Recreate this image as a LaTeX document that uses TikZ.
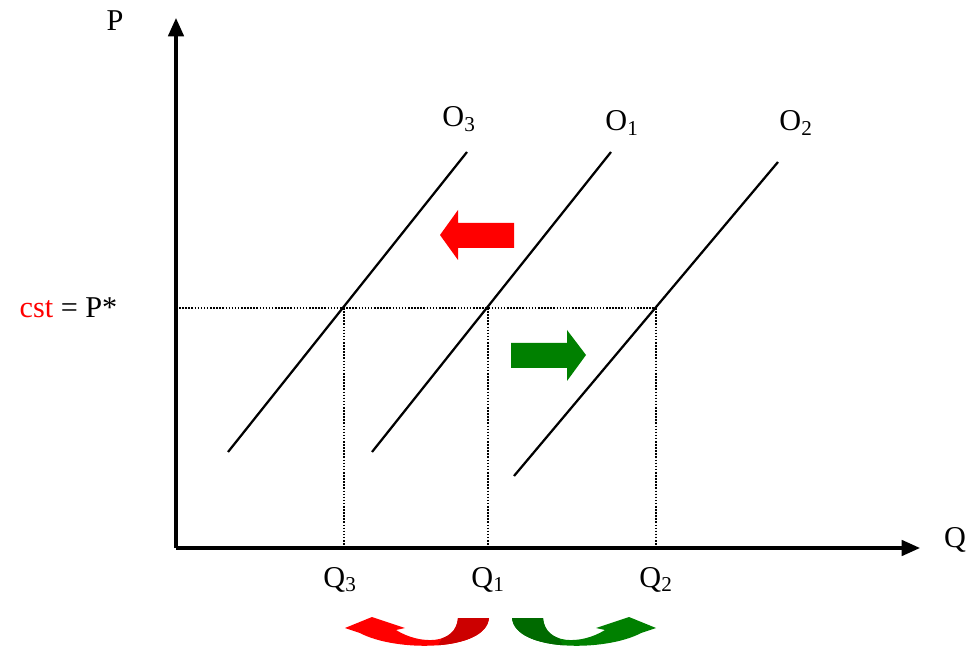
\documentclass[tikz,border=0pt]{standalone}
\usepackage{fontspec}
\setmainfont{Liberation Serif}
\usetikzlibrary{arrows.meta}
\definecolor{shiftred}{RGB}{255,0,0}
\definecolor{shiftreddark}{RGB}{204,0,0}
\definecolor{shiftgreen}{RGB}{0,128,0}
\definecolor{shiftgreendark}{RGB}{0,106,0}

\begin{document}
\begin{tikzpicture}[
  x=0.025cm, y=-0.025cm,
  every node/.style={font=\fontsize{21.5}{25}\selectfont, inner sep=1pt},
  axis/.style={line width=2.3pt, -{Triangle[width=11pt,length=13pt]}},
  supply/.style={line width=1.6pt},
  guide/.style={line width=1.3pt, dash pattern=on 1.1pt off 1.1pt}
]
\useasboundingbox (0,0) rectangle (968,649);
% axes
\coordinate (origin) at (176,548);
\coordinate (ptop) at (176,18);
\coordinate (qend) at (920,548);
\draw[axis] (origin) -- (ptop);
\draw[axis] (origin) -- (qend);
\node (plabel) at (115,21) {P};
\node (qlabel) at (955,540) {Q};

% equilibrium points
\coordinate (e3) at (344,308);
\coordinate (e1) at (488,308);
\coordinate (e2) at (656,308);
\draw[guide] (origin |- e2) -- (e2);
\draw[guide] (e3) -- (e3 |- origin);
\draw[guide] (e1) -- (e1 |- origin);
\draw[guide] (e2) -- (e2 |- origin);
\node[anchor=east] (pstar) at (119,308) {\textcolor{shiftred}{cst} = P*};

% supply curves
\draw[supply] (228,452) -- (467,152);
\draw[supply] (372,452) -- (611,152);
\draw[supply] (514,476) -- (778,162);
\node (o3label) at (459,119) {O\textsubscript{3}};
\node (o1label) at (622,123) {O\textsubscript{1}};
\node (o2label) at (796,123) {O\textsubscript{2}};
\node (q3label) at (340,580) {Q\textsubscript{3}};
\node (q1label) at (488,580) {Q\textsubscript{1}};
\node (q2label) at (656,580) {Q\textsubscript{2}};

% shift arrows
\fill[shiftred] (440,235) -- (458,210) -- (458,223) -- (514,223) -- (514,248)
  -- (458,248) -- (458,260) -- cycle;
\fill[shiftgreen] (586,355) -- (567,330) -- (567,343) -- (511,343) -- (511,368)
  -- (567,368) -- (567,381) -- cycle;

% curved arrows below
\def\redturn{(458,618) .. controls (456,645) and (420,645) .. (396,630)
  -- (405,628) -- (372,617) -- (345,628) -- (360,633)
  .. controls (395,652) and (486,652) .. (489,618) -- cycle}
\def\greenturn{(543,618) .. controls (545,645) and (581,645) .. (605,630)
  -- (596,628) -- (629,617) -- (656,628) -- (641,633)
  .. controls (606,652) and (515,652) .. (512,618) -- cycle}
\fill[shiftred] \redturn;
\begin{scope}
  \clip (436,649) -- (458,610) -- (500,610) -- (500,649) -- cycle;
  \fill[shiftreddark] \redturn;
\end{scope}
\fill[shiftgreen] \greenturn;
\begin{scope}
  \clip (565,649) -- (543,610) -- (501,610) -- (501,649) -- cycle;
  \fill[shiftgreendark] \greenturn;
\end{scope}
\end{tikzpicture}
\end{document}
